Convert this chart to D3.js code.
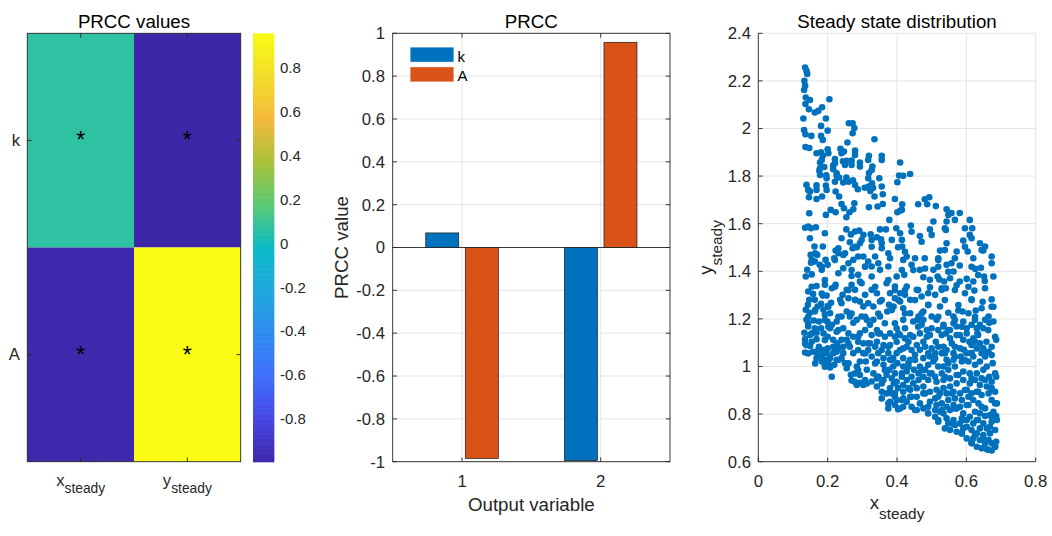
<!DOCTYPE html>
<html><head><meta charset="utf-8">
<script src="https://cdn.jsdelivr.net/npm/d3@7"></script>
<style>body{margin:0;background:#fff}svg{display:block}text{font-family:"Liberation Sans",Arial,Helvetica,sans-serif}</style>
</head><body><svg id="c" width="1052" height="536"></svg>
<script>
// ---------------- data ----------------
const params = ["k", "A"];
const outputs = ["x", "y"];             // x_steady, y_steady
const prccK = [0.068, -0.995];          // PRCC of k vs (x_steady, y_steady)
const prccA = [-0.985, 0.958];          // PRCC of A vs (x_steady, y_steady)
const barCategories = [1, 2];
const barSeries = ["k", "A"];
const barYTicks = [-1, -0.8, -0.6, -0.4, -0.2, 0, 0.2, 0.4, 0.6, 0.8, 1];
const barYTickLabels = ["-1", "-0.8", "-0.6", "-0.4", "-0.2", "0", "0.2", "0.4", "0.6", "0.8", "1"];
const cbTicks = [-0.8, -0.6, -0.4, -0.2, 0, 0.2, 0.4, 0.6, 0.8];
const cbTickLabels = ["-0.8", "-0.6", "-0.4", "-0.2", "0", "0.2", "0.4", "0.6", "0.8"];
const scXTicks = [0, 0.2, 0.4, 0.6, 0.8];
const scXTickLabels = ["0", "0.2", "0.4", "0.6", "0.8"];
const scYTicks = [0.6, 0.8, 1, 1.2, 1.4, 1.6, 1.8, 2, 2.2, 2.4];
const scYTickLabels = ["0.6", "0.8", "1", "1.2", "1.4", "1.6", "1.8", "2", "2.2", "2.4"];
const parulaStops = ["#3e26a8", "#4746e4", "#3f6efb", "#2e8cef", "#1fa8dc", "#0bbac6", "#5bca74", "#a8c23a", "#f5b93c", "#f2dc2a", "#f9fb14"];
const steadyState = [
[0.135,2.256],[0.139,2.242],[0.141,2.229],[0.133,2.2],[0.135,2.179],[0.132,2.162],[0.137,2.13],[0.149,2.12],[0.136,2.103],[0.146,2.081],[0.163,2.067],[0.173,2.074],[0.184,2.089],[0.205,2.123],[0.13,2.042],[0.195,2.042],[0.132,1.994],[0.136,1.976],[0.153,1.969],[0.181,2.011],[0.181,1.969],[0.186,1.952],[0.2,1.991],[0.136,1.922],[0.147,1.918],[0.168,1.896],[0.181,1.9],[0.186,1.885],[0.2,1.913],[0.178,1.857],[0.176,1.823],[0.19,1.838],[0.261,2.022],[0.272,2.022],[0.277,2.002],[0.272,1.98],[0.257,1.941],[0.237,1.915],[0.247,1.903],[0.221,1.872],[0.279,1.907],[0.269,1.865],[0.254,1.864],[0.244,1.862],[0.293,1.857],[0.335,1.955],[0.319,1.885],[0.356,1.885],[0.329,1.84],[0.409,1.857],[0.438,1.809],[0.406,1.802],[0.418,1.801],[0.401,1.774],[0.216,1.845],[0.216,1.829],[0.226,1.8],[0.233,1.794],[0.245,1.773],[0.254,1.794],[0.273,1.782],[0.196,1.803],[0.319,1.813],[0.349,1.791],[0.328,1.77],[0.318,1.756],[0.331,1.751],
[0.139,1.763],[0.149,1.735],[0.146,1.711],[0.168,1.761],[0.168,1.704],[0.184,1.714],[0.195,1.76],[0.223,1.735],[0.233,1.714],[0.195,1.637],[0.209,1.658],[0.223,1.648],[0.24,1.683],[0.247,1.665],[0.254,1.627],[0.277,1.686],[0.274,1.661],[0.263,1.648],[0.287,1.745],[0.307,1.751],[0.323,1.737],[0.335,1.714],[0.359,1.724],[0.359,1.683],[0.344,1.672],[0.319,1.669],[0.394,1.704],[0.401,1.648],[0.41,1.655],[0.415,1.682],[0.461,1.682],[0.48,1.703],[0.493,1.711],[0.487,1.682],[0.512,1.674],[0.543,1.661],[0.557,1.645],[0.581,1.645],[0.61,1.616],[0.617,1.581],[0.61,1.553],[0.591,1.529],[0.639,1.518],[0.654,1.504],[0.649,1.487],[0.673,1.462],[0.678,1.378],[0.604,1.483],[0.62,1.455],[0.626,1.41],[0.642,1.415],[0.653,1.359],[0.651,1.378],[0.62,1.357],[0.601,1.368],[0.596,1.308],[0.623,1.319],[0.615,1.282],[0.647,1.272],[0.673,1.282],[0.678,1.251],[0.627,1.235],[0.678,1.189],[0.666,1.184],[0.147,1.644],
[0.135,1.583],[0.144,1.588],[0.152,1.581],[0.166,1.585],[0.192,1.56],[0.149,1.539],[0.162,1.504],[0.186,1.504],[0.151,1.469],[0.17,1.469],[0.152,1.436],[0.163,1.441],[0.177,1.427],[0.194,1.448],[0.2,1.427],[0.183,1.406],[0.141,1.406],[0.137,1.378],[0.154,1.387],[0.168,1.338],[0.192,1.343],[0.212,1.329],[0.223,1.343],[0.144,1.315],[0.158,1.305],[0.147,1.28],[0.143,1.259],[0.163,1.28],[0.186,1.298],[0.197,1.298],[0.181,1.263],[0.2,1.254],[0.21,1.268],[0.137,1.238],[0.149,1.226],[0.163,1.231],[0.171,1.252],[0.188,1.238],[0.192,1.217],[0.207,1.224],[0.139,1.196],[0.16,1.193],[0.175,1.189],[0.199,1.189],[0.212,1.175],[0.226,1.189],[0.144,1.168],[0.163,1.161],[0.181,1.161],[0.207,1.161],[0.133,1.142],[0.149,1.132],[0.168,1.142],[0.188,1.139],[0.2,1.125],[0.226,1.146],[0.135,1.115],[0.154,1.104],[0.168,1.115],[0.138,1.09],[0.149,1.086],[0.175,1.083],[0.188,1.069],[0.2,1.076],[0.216,1.112],[0.228,1.098],[0.24,1.112],[0.135,1.059],[0.158,1.062],[0.171,1.056],[0.183,1.045],[0.197,1.056],[0.207,1.035],[0.216,1.056],[0.226,1.062],[0.195,1.028],[0.202,1.014],[0.207,0.996],[0.219,1.007],[0.226,1.028],[0.24,1.035],[0.25,1.014],[0.255,0.993],[0.245,1.056],[0.267,0.965],[0.269,0.941],[0.278,0.936],[0.284,0.922],[0.293,0.932],[0.303,0.922],[0.313,0.929],
[0.223,1.487],[0.231,1.497],[0.24,1.539],[0.231,1.476],[0.245,1.469],[0.219,1.455],[0.254,1.576],[0.267,1.555],[0.264,1.522],[0.272,1.497],[0.284,1.501],[0.293,1.518],[0.303,1.553],[0.291,1.571],[0.279,1.567],[0.324,1.555],[0.327,1.532],[0.342,1.543],[0.354,1.534],[0.356,1.497],[0.351,1.576],[0.368,1.576],[0.378,1.616],[0.385,1.532],[0.398,1.581],[0.409,1.56],[0.415,1.504],[0.403,1.501],[0.44,1.592],[0.466,1.548],[0.495,1.576],[0.505,1.609],[0.541,1.574],[0.543,1.609],[0.543,1.518],[0.524,1.487],[0.519,1.455],[0.543,1.427],[0.557,1.434],[0.572,1.483],[0.581,1.424],[0.581,1.357],[0.563,1.399],[0.572,1.341],[0.536,1.357],[0.553,1.371],[0.522,1.366],[0.505,1.406],[0.517,1.378],[0.495,1.364],[0.476,1.375],[0.466,1.406],[0.48,1.455],[0.452,1.455],[0.428,1.462],[0.418,1.448],[0.442,1.427],[0.421,1.385],[0.399,1.378],[0.375,1.42],[0.38,1.455],[0.37,1.35],[0.351,1.406],[0.337,1.462],[0.327,1.42],[0.327,1.378],[0.317,1.441],[0.303,1.462],[0.308,1.42],[0.288,1.385],[0.288,1.462],[0.274,1.448],[0.26,1.434],[0.245,1.413],[0.269,1.38],[0.293,1.357],[0.269,1.343],[0.255,1.322],[0.279,1.322],[0.243,1.301],[0.26,1.287],[0.236,1.28],[0.279,1.28],[0.308,1.301],[0.327,1.322],[0.342,1.308],[0.351,1.273],[0.332,1.252],[0.303,1.252],[0.293,1.273],[0.38,1.308],[0.394,1.287],[0.409,1.308],[0.423,1.301],[0.438,1.28],[0.377,1.259],[0.372,1.231],[0.39,1.252],[0.418,1.245],[0.457,1.322],[0.471,1.294],[0.49,1.308],[0.51,1.301],[0.529,1.322],[0.541,1.329],[0.49,1.259],[0.476,1.231],[0.462,1.21],[0.447,1.189],[0.438,1.224],[0.524,1.252],[0.548,1.226],[0.563,1.21],[0.577,1.235],[0.589,1.231],[0.606,1.224],[0.639,1.175],[0.649,1.161],[0.632,1.14],[0.62,1.118],[0.609,1.104],[0.639,1.097],[0.658,1.104],[0.683,1.125],[0.686,1.112],[0.644,1.056],[0.654,1.042],[0.676,1.014],[0.593,1.07],[0.615,1.056],[0.584,1.042],[0.563,1.056],[0.543,1.028],[0.529,1.056],[0.534,1.083],[0.512,1.104],[0.495,1.132],[0.486,1.153],[0.471,1.175],[0.459,1.196],[0.5,1.161],[0.519,1.153],[0.541,1.139],[0.553,1.153],[0.572,1.168],[0.581,1.132],[0.601,1.139],[0.438,1.132],[0.423,1.118],[0.428,1.083],[0.409,1.069],[0.394,1.182],[0.399,1.161],[0.38,1.139],[0.365,1.125],[0.351,1.139],[0.342,1.153],[0.322,1.175],[0.313,1.196],[0.298,1.21],[0.284,1.196],[0.274,1.184],[0.264,1.21],[0.255,1.231],[0.24,1.21],[0.245,1.161],[0.26,1.139],[0.274,1.125],[0.288,1.104],[0.303,1.097],[0.322,1.097],[0.337,1.083],[0.356,1.069],[0.375,1.056],[0.389,1.035],[0.401,1.014],[0.418,1.035],[0.438,1.028],[0.452,1.049],[0.466,1.07],[0.476,1.035],[0.49,1.007],[0.505,1.021],[0.519,1.0],[0.466,1.0],[0.449,0.986],[0.428,0.979],[0.414,0.957],[0.394,0.971],[0.378,0.986],[0.361,1.007],[0.342,1.021],[0.327,1.042],[0.31,1.021],[0.293,1.021],[0.284,1.0],[0.313,0.986],[0.332,0.971],[0.346,0.957],[0.361,0.943],[0.327,0.937],[0.342,0.916],[0.356,0.894],[0.37,0.887],[0.38,0.909],[0.391,0.929],[0.403,0.909],[0.418,0.922],[0.433,0.909],[0.447,0.929],[0.462,0.943],[0.476,0.957],[0.49,0.943],[0.51,0.957],[0.529,0.971],[0.548,0.986],[0.567,1.0],[0.587,1.021],[0.606,1.021],[0.625,1.007],[0.649,0.986],[0.666,0.957],[0.686,0.957],[0.673,0.936],[0.659,0.916],[0.639,0.922],[0.625,0.943],[0.61,0.929],[0.591,0.943],[0.572,0.929],[0.553,0.916],[0.534,0.909],[0.514,0.902],[0.495,0.894],[0.476,0.887],[0.457,0.873],[0.438,0.873],[0.418,0.866],[0.399,0.859],[0.38,0.852],[0.394,0.838],[0.409,0.824],[0.442,0.831],[0.457,0.817],[0.476,0.824],[0.49,0.803],[0.51,0.789],[0.519,0.768],[0.538,0.74],[0.553,0.733],[0.572,0.726],[0.587,0.719],[0.601,0.698],[0.615,0.677],[0.63,0.663],[0.644,0.656],[0.659,0.652],[0.673,0.647],[0.683,0.663],[0.686,0.684],[0.673,0.677],[0.664,0.691],[0.649,0.712],[0.63,0.719],[0.615,0.733],[0.601,0.747],[0.582,0.761],[0.563,0.775],[0.543,0.782],[0.534,0.803],[0.553,0.817],[0.572,0.824],[0.591,0.803],[0.61,0.789],[0.63,0.775],[0.649,0.761],[0.668,0.747],[0.683,0.733],[0.688,0.775],[0.678,0.81],[0.668,0.796],[0.654,0.824],[0.635,0.845],[0.62,0.859],[0.606,0.873],[0.587,0.859],[0.567,0.866],[0.548,0.859],[0.529,0.845],[0.514,0.838],[0.495,0.852],[0.673,0.859],[0.683,0.894],[0.664,0.887],[0.644,0.88],[0.63,0.894],[0.688,0.845],[0.673,0.909],[0.686,0.792],
[0.394,1.336],[0.428,1.336],[0.409,1.273],[0.495,1.333],[0.567,1.083],[0.534,1.168],[0.615,1.175],[0.625,1.196],[0.553,1.118],[0.375,0.824],[0.385,0.887],[0.403,0.82],[0.356,0.866],[0.476,0.916],[0.466,0.845],[0.428,0.852],[0.418,0.831],[0.51,0.866],[0.524,0.887],[0.543,0.887],[0.563,0.894],[0.582,0.887],[0.601,0.902],[0.615,0.887],[0.601,0.838],[0.582,0.831],[0.563,0.838],[0.543,0.831],[0.524,0.81],[0.51,0.817],[0.639,0.803],[0.625,0.81],[0.654,0.792],[0.639,0.74],[0.62,0.761],[0.601,0.775],[0.587,0.782],[0.567,0.754],[0.548,0.761],[0.62,0.698],[0.639,0.691],[0.654,0.677],[0.668,0.719],[0.591,0.74],[0.673,0.768],[0.659,0.74],[0.534,0.943],[0.553,0.95],[0.572,0.964],[0.591,0.979],[0.61,0.971],[0.63,0.971],[0.644,0.95],[0.659,1.0],[0.639,1.021],[0.62,1.042],[0.601,1.056],[0.582,1.076],[0.51,1.056],[0.495,1.042],[0.476,1.104],[0.457,1.09],[0.442,1.069],[0.433,1.014],[0.418,1.0],[0.389,1.0],[0.37,0.964],[0.385,0.95],[0.399,0.936],[0.428,0.943],[0.442,0.957],[0.462,0.971],[0.481,0.986],[0.495,0.971],[0.514,0.936],[0.534,1.0],[0.548,1.014],[0.563,1.028],[0.394,0.887],[0.418,0.894],[0.438,0.902],[0.457,0.909],[0.356,0.929],[0.342,0.95],[0.308,0.943],[0.293,0.964],[0.279,0.971],[0.303,1.056],[0.317,1.069],[0.288,1.069],[0.274,1.056],[0.264,1.083],[0.255,1.112],[0.245,1.083],[0.231,1.076],[0.216,1.083],[0.168,1.035],[0.183,1.021],[0.192,1.007],[0.346,1.056],[0.361,1.035],[0.38,1.028],[0.399,1.056],[0.418,1.076],[0.433,1.104],[0.447,1.125],[0.466,1.139],[0.481,1.083],[0.5,1.076],[0.519,1.083],[0.543,1.069],[0.558,1.097],[0.572,1.132],[0.591,1.112],[0.615,1.09],[0.63,1.076],[0.649,1.076],[0.664,1.062],[0.673,1.048],[0.63,1.161],[0.654,1.196],[0.664,1.21],[0.351,1.21],[0.365,1.182],[0.332,1.196],[0.308,1.153],[0.293,1.139],[0.327,1.132],[0.342,1.104],[0.361,1.09],[0.38,1.09],[0.399,1.104],[0.409,1.132],[0.423,1.161],[0.418,1.196],[0.476,1.196],[0.514,1.196],[0.5,1.21],[0.534,1.175],[0.563,1.182],[0.591,1.189],[0.601,1.161],
[0.404,1.139],[0.461,1.167],[0.486,1.125],[0.529,1.132],[0.548,1.153],[0.587,1.167],[0.634,1.132],[0.663,1.153],[0.673,1.083],[0.654,1.062],[0.625,1.104],[0.615,1.055],[0.596,1.027],[0.567,1.041],[0.538,1.055],[0.51,1.034],[0.49,1.055],[0.452,1.027],[0.433,0.999],[0.414,0.971],[0.471,0.985],[0.5,0.971],[0.538,0.957],[0.577,0.964],[0.615,0.95],[0.654,0.943],[0.683,0.971],[0.673,0.901],[0.634,0.894],[0.596,0.901],[0.558,0.887],[0.519,0.873],[0.481,0.887],[0.442,0.873],[0.414,0.859],[0.452,0.817],[0.49,0.831],[0.529,0.817],[0.567,0.824],[0.606,0.838],[0.644,0.831],[0.683,0.845],[0.673,0.789],[0.634,0.775],[0.596,0.775],[0.558,0.761],[0.519,0.775],[0.587,0.719],[0.625,0.712],[0.654,0.691],[0.683,0.663],[0.663,0.65],[0.615,0.68],
[0.144,1.181],[0.135,1.097],[0.154,1.139],[0.144,1.055],[0.173,1.069],[0.192,1.111],[0.202,1.167],[0.231,1.153],[0.26,1.097],[0.288,1.125],[0.317,1.097],[0.346,1.139],[0.375,1.083],[0.394,1.125],[0.164,1.013],[0.192,0.999],[0.212,0.957],[0.231,1.027],[0.26,1.013],[0.288,0.985],[0.308,1.055],[0.337,1.013],[0.346,0.957],[0.365,0.985],[0.385,1.027],[0.375,0.845],[0.394,0.873],
[0.164,1.476],[0.154,1.447],[0.183,1.419],[0.221,1.447],[0.25,1.476],[0.279,1.503],[0.298,1.531],[0.327,1.503],[0.356,1.518],[0.375,1.476],[0.346,1.434],[0.308,1.419],[0.269,1.405],[0.231,1.392],[0.192,1.363],[0.154,1.335],[0.183,1.307],[0.221,1.335],[0.26,1.321],[0.298,1.35],[0.337,1.335],[0.375,1.363],[0.394,1.321],[0.356,1.279],[0.317,1.266],[0.279,1.279],[0.24,1.266],[0.202,1.251],[0.164,1.237],[0.144,1.209],[0.192,1.195],[0.231,1.209],[0.269,1.223],[0.308,1.209],[0.346,1.223],[0.385,1.237],
[0.414,1.658],[0.548,1.637],[0.567,1.616],[0.442,1.566],[0.5,1.553],[0.538,1.581],[0.596,1.581],[0.615,1.539],[0.414,1.532],[0.471,1.524],[0.538,1.489],[0.596,1.503],[0.644,1.489],[0.423,1.482],[0.519,1.447],[0.567,1.455],[0.615,1.419],[0.673,1.434],[0.414,1.405],[0.447,1.405],[0.481,1.412],[0.519,1.419],[0.548,1.398],[0.634,1.384],[0.654,1.329],[0.606,1.335],[0.567,1.321],[0.529,1.329],[0.461,1.321],[0.423,1.321],[0.404,1.279],[0.452,1.279],[0.49,1.258],[0.538,1.279],[0.577,1.258],[0.615,1.279],[0.644,1.245],[0.673,1.251],[0.423,1.223],[0.471,1.223],[0.519,1.209],[0.567,1.195],[0.625,1.209],
[0.356,1.868],[0.279,1.889],[0.24,1.896],[0.202,1.896],[0.183,1.868],[0.221,1.854],[0.25,1.847],[0.269,1.847],[0.293,1.84],[0.317,1.868],[0.327,1.826],[0.178,1.833],[0.178,1.805],[0.197,1.791],[0.226,1.812],[0.221,1.776],[0.26,1.776],[0.279,1.763],[0.317,1.791],[0.327,1.749],[0.356,1.756],[0.197,1.742],[0.144,1.742],[0.168,1.742]
];

// ---------------- styling ----------------
const svg = d3.select("#c");
const AX = "#262626", GRID = "#e1e1e1";
const TICK = 16.7, TITLE = 18.7, TL = 4.3, LW = 0.9;
const BLUE = "#0072bd", ORANGE = "#d95319";

function title(x, txt) {
  svg.append("text").attr("x", x).attr("y", 27.5).attr("text-anchor", "middle")
    .attr("font-size", TITLE).attr("fill", "#000").text(txt);
}
function subText(g, main, sub, mainSize, subSize, shift) {
  g.append("tspan").attr("font-size", mainSize).text(main);
  g.append("tspan").attr("font-size", subSize).attr("dy", shift).text(sub);
}

// ---------------- heatmap ----------------
const hm = {l: 27.3, r: 240.7, t: 33.3, b: 461.7};
const hx = d3.scaleBand().domain(outputs).range([hm.l, hm.r]);
const hy = d3.scaleBand().domain(params).range([hm.t, hm.b]);
const matrix = [prccK, prccA];
const allVals = matrix.flat();
const cmin = d3.min(allVals), cmax = d3.max(allVals);
const color = d3.scaleLinear()
  .domain(parulaStops.map((_, i) => cmin + (cmax - cmin) * i / (parulaStops.length - 1)))
  .range(parulaStops).interpolate(d3.interpolateRgb);

const cells = [];
params.forEach((p, i) => outputs.forEach((o, j) => cells.push({p, o, v: matrix[i][j]})));
svg.append("g").selectAll("rect").data(cells).join("rect")
  .attr("x", d => hx(d.o)).attr("y", d => hy(d.p))
  .attr("width", hx.bandwidth()).attr("height", hy.bandwidth())
  .attr("fill", d => color(d.v));
svg.append("g").selectAll("text").data(cells).join("text")
  .attr("x", d => hx(d.o) + hx.bandwidth() / 2)
  .attr("y", d => hy(d.p) + hy.bandwidth() / 2 + 8)
  .attr("text-anchor", "middle").attr("font-size", 23).attr("fill", "#000").text("*");
svg.append("rect").attr("x", hm.l).attr("y", hm.t).attr("width", hm.r - hm.l).attr("height", hm.b - hm.t)
  .attr("fill", "none").attr("stroke", AX).attr("stroke-width", LW);
outputs.forEach(o => {
  const cx = hx(o) + hx.bandwidth() / 2;
  svg.append("line").attr("x1", cx).attr("x2", cx).attr("y1", hm.b).attr("y2", hm.b - TL).attr("stroke", AX).attr("stroke-width", LW);
  svg.append("line").attr("x1", cx).attr("x2", cx).attr("y1", hm.t).attr("y2", hm.t + TL).attr("stroke", AX).attr("stroke-width", LW);
  const t = svg.append("text").attr("x", cx).attr("y", 486).attr("text-anchor", "middle").attr("fill", AX);
  subText(t, o, "steady", TICK, 13.8, 7.3);
});
params.forEach(p => {
  const cy = hy(p) + hy.bandwidth() / 2;
  svg.append("line").attr("x1", hm.l).attr("x2", hm.l + TL).attr("y1", cy).attr("y2", cy).attr("stroke", AX).attr("stroke-width", LW);
  svg.append("line").attr("x1", hm.r).attr("x2", hm.r - TL).attr("y1", cy).attr("y2", cy).attr("stroke", AX).attr("stroke-width", LW);
  svg.append("text").attr("x", 20).attr("y", cy).attr("dy", "0.35em").attr("text-anchor", "end")
    .attr("font-size", TICK).attr("fill", AX).text(p);
});
title((hm.l + hm.r) / 2, "PRCC values");

// colorbar
const cb = {l: 253, r: 274.3};
const cby = d3.scaleLinear().domain([cmin, cmax]).range([hm.b, hm.t]);
const levels = d3.range(256).map(i => cmin + (cmax - cmin) * (i + 0.5) / 256);
const step = (cmax - cmin) / 256;
svg.append("g").selectAll("rect").data(levels).join("rect")
  .attr("x", cb.l).attr("width", cb.r - cb.l)
  .attr("y", d => cby(d + step / 2)).attr("height", d => cby(d - step / 2) - cby(d + step / 2) + 0.6)
  .attr("fill", d => color(d));
svg.append("g").selectAll("text").data(cbTicks).join("text")
  .attr("x", 280).attr("y", d => cby(d)).attr("dy", "0.35em")
  .attr("font-size", 15).attr("fill", AX).text((d, i) => cbTickLabels[i]);

// ---------------- bar chart ----------------
const bc = {l: 392.7, r: 670, t: 33.3, b: 461.7};
const bx = d3.scaleLinear().domain([0.5, 2.5]).range([bc.l, bc.r]);
const byS = d3.scaleLinear().domain([-1, 1]).range([bc.b, bc.t]);
const inner = d3.scaleBand().domain(barSeries).range([-36.3, 36.3]).paddingInner(0.1667);
const barVals = {k: prccK, A: prccA};
const barColor = {k: BLUE, A: ORANGE};
const gb = svg.append("g");
barYTicks.forEach(v => gb.append("line").attr("x1", bc.l).attr("x2", bc.r).attr("y1", byS(v)).attr("y2", byS(v)).attr("stroke", GRID).attr("stroke-width", LW));
barCategories.forEach(c => gb.append("line").attr("x1", bx(c)).attr("x2", bx(c)).attr("y1", bc.t).attr("y2", bc.b).attr("stroke", GRID).attr("stroke-width", LW));
const bars = [];
barSeries.forEach(s => barCategories.forEach((c, i) => bars.push({s, c, v: barVals[s][i]})));
gb.selectAll("rect.bar").data(bars).join("rect").attr("class", "bar")
  .attr("x", d => bx(d.c) + inner(d.s)).attr("width", inner.bandwidth())
  .attr("y", d => byS(Math.max(0, d.v))).attr("height", d => Math.abs(byS(d.v) - byS(0)))
  .attr("fill", d => barColor[d.s]).attr("stroke", "#1a1a1a").attr("stroke-width", 0.7);
gb.append("line").attr("x1", bc.l).attr("x2", bc.r).attr("y1", byS(0)).attr("y2", byS(0)).attr("stroke", AX).attr("stroke-width", LW);
gb.append("rect").attr("x", bc.l).attr("y", bc.t).attr("width", bc.r - bc.l).attr("height", bc.b - bc.t)
  .attr("fill", "none").attr("stroke", AX).attr("stroke-width", LW);
barYTicks.forEach((v, i) => {
  gb.append("line").attr("x1", bc.l).attr("x2", bc.l + TL).attr("y1", byS(v)).attr("y2", byS(v)).attr("stroke", AX).attr("stroke-width", LW);
  gb.append("line").attr("x1", bc.r).attr("x2", bc.r - TL).attr("y1", byS(v)).attr("y2", byS(v)).attr("stroke", AX).attr("stroke-width", LW);
  gb.append("text").attr("x", 385).attr("y", byS(v)).attr("dy", "0.35em").attr("text-anchor", "end")
    .attr("font-size", TICK).attr("fill", AX).text(barYTickLabels[i]);
});
barCategories.forEach(c => {
  gb.append("line").attr("x1", bx(c)).attr("x2", bx(c)).attr("y1", bc.b).attr("y2", bc.b - TL).attr("stroke", AX).attr("stroke-width", LW);
  gb.append("line").attr("x1", bx(c)).attr("x2", bx(c)).attr("y1", bc.t).attr("y2", bc.t + TL).attr("stroke", AX).attr("stroke-width", LW);
  gb.append("text").attr("x", bx(c)).attr("y", 487).attr("text-anchor", "middle")
    .attr("font-size", TICK).attr("fill", AX).text(c);
});
// legend
barSeries.forEach((s, i) => {
  const ly = 47.7 + i * 19.6;
  gb.append("rect").attr("x", 410.7).attr("y", ly).attr("width", 42.6).attr("height", 14)
    .attr("fill", barColor[s]).attr("stroke", barColor[s]).attr("stroke-opacity", 0.6).attr("stroke-width", 0.8);
  gb.append("text").attr("x", 457.5).attr("y", ly + 13.8).attr("font-size", 15).attr("fill", "#000").text(s);
});
title((bc.l + bc.r) / 2, "PRCC");
svg.append("text").attr("x", (bc.l + bc.r) / 2).attr("y", 511).attr("text-anchor", "middle")
  .attr("font-size", TITLE).attr("fill", AX).text("Output variable");
svg.append("text").attr("transform", `translate(347.5,${(bc.t + bc.b) / 2}) rotate(-90)`)
  .attr("text-anchor", "middle").attr("font-size", TITLE).attr("fill", AX).text("PRCC value");

// ---------------- scatter ----------------
const sc = {l: 758.3, r: 1035.7, t: 33.3, b: 461.7};
const sx = d3.scaleLinear().domain([0, 0.8]).range([sc.l, sc.r]);
const sy = d3.scaleLinear().domain([0.6, 2.4]).range([sc.b, sc.t]);
const gs = svg.append("g");
scYTicks.forEach(v => gs.append("line").attr("x1", sc.l).attr("x2", sc.r).attr("y1", sy(v)).attr("y2", sy(v)).attr("stroke", GRID).attr("stroke-width", LW));
scXTicks.forEach(v => gs.append("line").attr("x1", sx(v)).attr("x2", sx(v)).attr("y1", sc.t).attr("y2", sc.b).attr("stroke", GRID).attr("stroke-width", LW));
gs.append("g").selectAll("circle").data(steadyState).join("circle")
  .attr("cx", d => sx(d[0])).attr("cy", d => sy(d[1])).attr("r", 3.3).attr("fill", BLUE);
gs.append("line").attr("x1", sc.l).attr("x2", sc.r).attr("y1", sc.b).attr("y2", sc.b).attr("stroke", AX).attr("stroke-width", LW);
gs.append("line").attr("x1", sc.l).attr("x2", sc.l).attr("y1", sc.t).attr("y2", sc.b).attr("stroke", AX).attr("stroke-width", LW);
scXTicks.forEach((v, i) => {
  gs.append("line").attr("x1", sx(v)).attr("x2", sx(v)).attr("y1", sc.b).attr("y2", sc.b - TL).attr("stroke", AX).attr("stroke-width", LW);
  gs.append("text").attr("x", sx(v)).attr("y", 487).attr("text-anchor", "middle")
    .attr("font-size", TICK).attr("fill", AX).text(scXTickLabels[i]);
});
scYTicks.forEach((v, i) => {
  gs.append("line").attr("x1", sc.l).attr("x2", sc.l + TL).attr("y1", sy(v)).attr("y2", sy(v)).attr("stroke", AX).attr("stroke-width", LW);
  gs.append("text").attr("x", 751).attr("y", sy(v)).attr("dy", "0.35em").attr("text-anchor", "end")
    .attr("font-size", TICK).attr("fill", AX).text(scYTickLabels[i]);
});
title((sc.l + sc.r) / 2, "Steady state distribution");
const xl = svg.append("text").attr("x", (sc.l + sc.r) / 2).attr("y", 509).attr("text-anchor", "middle").attr("fill", AX);
subText(xl, "x", "steady", TITLE, 15.4, 10);
const yl = svg.append("text").attr("transform", `translate(712,${(sc.t + sc.b) / 2}) rotate(-90)`)
  .attr("text-anchor", "middle").attr("fill", AX);
subText(yl, "y", "steady", TITLE, 15.4, 10);
</script></body></html>
